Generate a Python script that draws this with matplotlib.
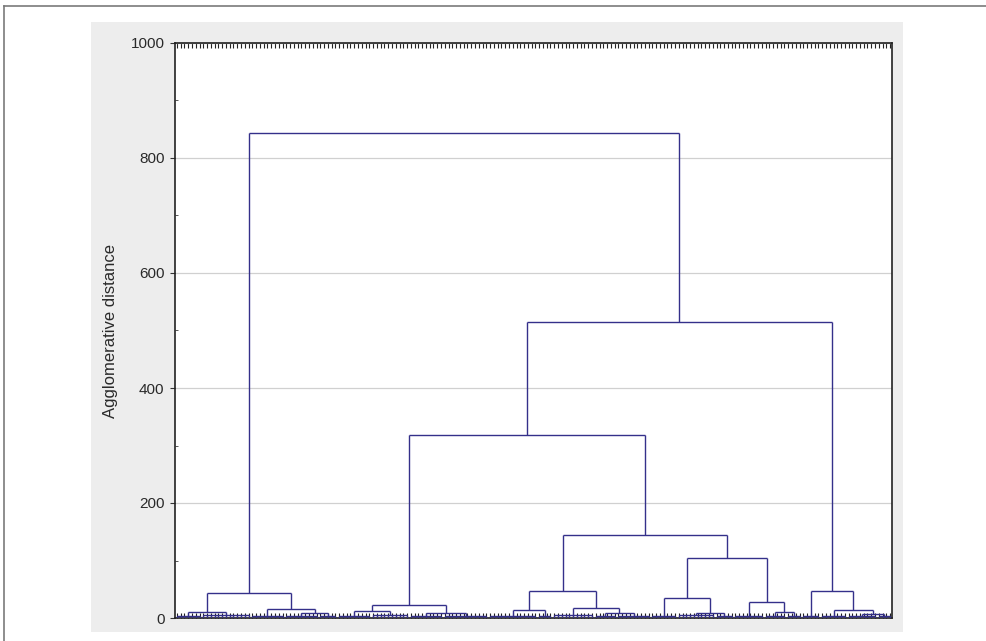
import matplotlib
matplotlib.use("Agg")
import matplotlib.pyplot as plt
from matplotlib.lines import Line2D
from matplotlib.ticker import MultipleLocator

plt.rcParams['font.family'] = ['Liberation Sans', 'DejaVu Sans']

# ---- data: leaf groups (bottom-level clusters) in leaf order ----
group_names = ['A1a', 'A1b', 'A2a', 'A2b1', 'A2b2', 'B1a', 'B1b', 'B2a', 'B2b',
               'C1a', 'C1b', 'C2a', 'C2b1', 'C2b2', 'D1', 'D2a', 'D2b',
               'E1', 'E2a', 'E2b', 'F1', 'F2a', 'F2b1', 'F2b2']
group_sizes = [7, 13, 9, 9, 5, 9, 10, 9, 12,
               13, 4, 11, 6, 9, 7, 10, 5,
               8, 6, 4, 5, 7, 8, 4]
group_heights = [3, 5, 4, 3, 4, 3, 5, 3, 4,
                 4, 3, 5, 3, 4, 4, 5, 3,
                 4, 3, 3, 3, 4, 4, 3]

# ---- data: merges (left child, right child, agglomerative distance) ----
merge_names = ['A1', 'A2b', 'A2', 'A', 'B1', 'B2', 'B', 'C1', 'C2b', 'C2', 'C',
               'D2', 'D', 'E2', 'E', 'F2b', 'F2', 'F', 'DE', 'CDE', 'BCDE',
               'BCDEF', 'ROOT']
merge_left = ['A1a', 'A2b1', 'A2a', 'A1', 'B1a', 'B2a', 'B1', 'C1a', 'C2b1', 'C2a', 'C1',
              'D2a', 'D1', 'E2a', 'E1', 'F2b1', 'F2a', 'F1', 'D', 'C', 'B',
              'BCDE', 'A']
merge_right = ['A1b', 'A2b2', 'A2b', 'A2', 'B1b', 'B2b', 'B2', 'C1b', 'C2b2', 'C2b', 'C2',
               'D2b', 'D2', 'E2b', 'E2', 'F2b2', 'F2b', 'F2', 'E', 'DE', 'CDE',
               'F', 'BCDEF']
merge_heights = [10, 9, 16, 43, 12, 9, 23, 14, 9, 17, 47,
                 9, 35, 10, 28, 7, 14, 47, 104, 144, 318,
                 515, 843]

y_ticks = [0, 200, 400, 600, 800, 1000]
y_label = 'Agglomerative distance'

# ---- figure ----
W, H = 987, 641
fig = plt.figure(figsize=(W / 100, H / 100), dpi=100, facecolor='white')

# grey panel behind the plot
bg = fig.add_axes([91 / W, 1 - 632 / H, (903 - 91) / W, (632 - 22) / H], zorder=-5)
bg.set_facecolor('#ededed')
bg.set_xticks([])
bg.set_yticks([])
for s in bg.spines.values():
    s.set_visible(False)

# outer frame lines (top and left)
fig.lines.append(Line2D([4 / W, 1], [1 - 6 / H, 1 - 6 / H], transform=fig.transFigure,
                        color='#7a7a7a', lw=1.2))
fig.lines.append(Line2D([4 / W, 4 / W], [1 - 6 / H, 0], transform=fig.transFigure,
                        color='#7a7a7a', lw=1.2))

ax = fig.add_axes([175 / W, 1 - 618 / H, (892 - 175) / W, (618 - 43) / H], zorder=1)
ax.set_facecolor('white')

line_color = '#34308a'
lw = 1.0

n_leaves = sum(group_sizes)
center = {}
height = {}
start = 0
for name, n, h in zip(group_names, group_sizes, group_heights):
    leaves = list(range(start, start + n))
    ax.vlines(leaves, 0, h, color=line_color, lw=lw, zorder=3)
    ax.hlines(h, leaves[0], leaves[-1], color=line_color, lw=lw, zorder=3)
    center[name] = start + (n - 1) / 2
    height[name] = h
    start += n

for name, l, r, h in zip(merge_names, merge_left, merge_right, merge_heights):
    xl, xr = center[l], center[r]
    ax.vlines([xl], height[l], h, color=line_color, lw=lw, zorder=3)
    ax.vlines([xr], height[r], h, color=line_color, lw=lw, zorder=3)
    ax.hlines(h, xl, xr, color=line_color, lw=lw, zorder=3)
    center[name] = (xl + xr) / 2
    height[name] = h

ax.set_xlim(-0.5, n_leaves - 0.5)
ax.set_ylim(0, 1000)

ax.set_yticks(y_ticks)
ax.set_yticklabels([str(v) for v in y_ticks])
ax.yaxis.set_minor_locator(MultipleLocator(100))
ax.grid(axis='y', which='major', color='#d0d0d0', lw=0.9, zorder=1)
ax.set_axisbelow(True)

ax.set_xticks(range(n_leaves))
ax.set_xticklabels([])
ax.tick_params(axis='x', which='major', direction='in', length=3.5, width=0.8,
               color='#222222', top=True, bottom=True)
ax.tick_params(axis='y', which='major', direction='out', length=3.5, width=0.8,
               color='#333333', labelsize=11, labelcolor='#2a2a2a', pad=4,
               right=False)
ax.tick_params(axis='y', which='minor', direction='in', length=2.5, width=0.7,
               color='#555555', right=False)

for s in ax.spines.values():
    s.set_color('#222222')
    s.set_linewidth(1.2)

ax.set_ylabel(y_label, fontsize=12, color='#2a2a2a', labelpad=9)

fig.savefig('out.png', dpi=100, facecolor='white')
